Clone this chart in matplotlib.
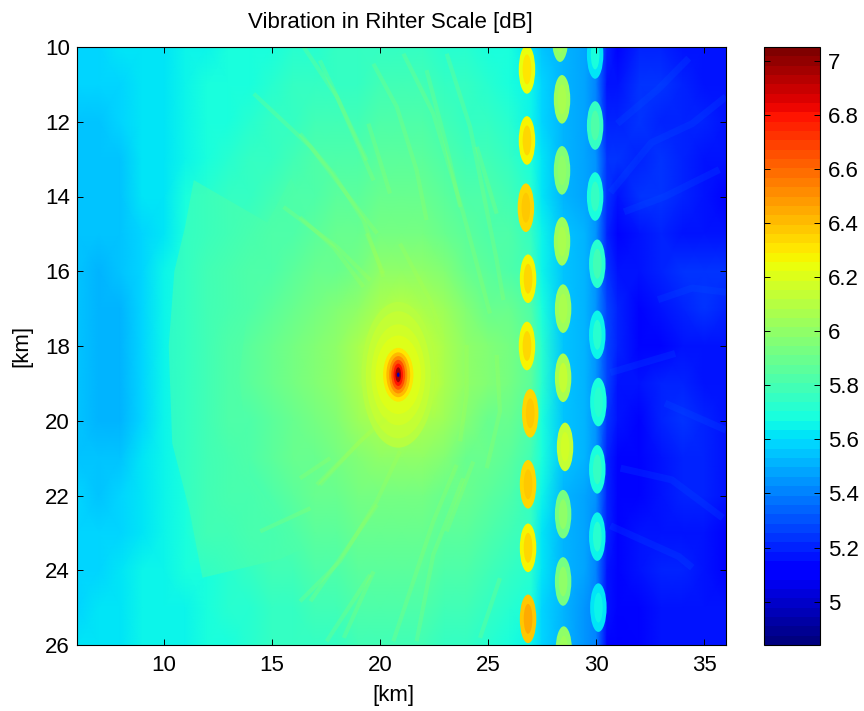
import numpy as np
import matplotlib
matplotlib.use("Agg")
import matplotlib.pyplot as plt
from matplotlib.colors import Normalize
from matplotlib.patches import Ellipse, Polygon

plt.rcParams["font.family"] = ["Liberation Sans", "DejaVu Sans"]

# background field [km, km, magnitude]
x_km = [6, 7, 8, 9, 10, 11, 12, 13, 14, 15, 16, 17, 18, 19, 20, 21, 22, 23, 24, 25, 26, 27, 27.5, 28.5, 29.5, 30, 30.5, 31, 32, 33, 34, 35, 36]
y_km = [10, 11, 12, 13, 14, 15, 16, 17, 18, 19, 20, 21, 22, 23, 24, 25, 26]
field = [
    [5.57, 5.58, 5.60, 5.61, 5.63, 5.65, 5.66, 5.67, 5.68, 5.70, 5.72, 5.73, 5.74, 5.74, 5.75, 5.76, 5.74, 5.73, 5.71, 5.69, 5.67, 5.62, 5.56, 5.50, 5.47, 5.42, 5.20, 5.15, 5.19, 5.21, 5.18, 5.17, 5.16],
    [5.57, 5.57, 5.59, 5.60, 5.63, 5.65, 5.67, 5.68, 5.70, 5.72, 5.74, 5.75, 5.76, 5.77, 5.78, 5.79, 5.78, 5.76, 5.74, 5.71, 5.69, 5.64, 5.57, 5.50, 5.47, 5.41, 5.18, 5.17, 5.22, 5.24, 5.20, 5.17, 5.16],
    [5.56, 5.56, 5.57, 5.60, 5.63, 5.66, 5.68, 5.70, 5.72, 5.74, 5.76, 5.78, 5.79, 5.80, 5.81, 5.82, 5.81, 5.79, 5.76, 5.74, 5.72, 5.66, 5.58, 5.51, 5.48, 5.42, 5.20, 5.20, 5.23, 5.20, 5.21, 5.19, 5.17],
    [5.55, 5.55, 5.56, 5.60, 5.63, 5.66, 5.70, 5.72, 5.74, 5.77, 5.79, 5.81, 5.82, 5.83, 5.85, 5.86, 5.85, 5.83, 5.80, 5.78, 5.75, 5.69, 5.60, 5.52, 5.48, 5.43, 5.22, 5.22, 5.21, 5.22, 5.19, 5.18, 5.16],
    [5.55, 5.55, 5.56, 5.60, 5.63, 5.67, 5.72, 5.74, 5.76, 5.79, 5.81, 5.83, 5.85, 5.86, 5.88, 5.90, 5.89, 5.86, 5.84, 5.81, 5.79, 5.72, 5.62, 5.53, 5.49, 5.44, 5.22, 5.18, 5.24, 5.24, 5.20, 5.17, 5.15],
    [5.54, 5.54, 5.55, 5.59, 5.63, 5.67, 5.73, 5.76, 5.79, 5.82, 5.84, 5.86, 5.88, 5.90, 5.92, 5.94, 5.93, 5.90, 5.87, 5.84, 5.81, 5.75, 5.64, 5.54, 5.50, 5.44, 5.20, 5.15, 5.18, 5.20, 5.18, 5.18, 5.17],
    [5.54, 5.53, 5.54, 5.59, 5.64, 5.67, 5.74, 5.78, 5.81, 5.84, 5.87, 5.89, 5.91, 5.94, 5.98, 6.01, 5.99, 5.95, 5.91, 5.87, 5.84, 5.78, 5.66, 5.55, 5.51, 5.45, 5.24, 5.18, 5.16, 5.20, 5.24, 5.25, 5.24],
    [5.55, 5.53, 5.53, 5.59, 5.65, 5.68, 5.75, 5.80, 5.84, 5.86, 5.90, 5.92, 5.95, 6.00, 6.07, 6.10, 6.08, 6.02, 5.96, 5.91, 5.88, 5.82, 5.69, 5.56, 5.52, 5.46, 5.26, 5.20, 5.15, 5.17, 5.20, 5.22, 5.21],
    [5.56, 5.53, 5.53, 5.59, 5.66, 5.68, 5.75, 5.82, 5.86, 5.88, 5.93, 5.96, 6.00, 6.06, 6.15, 6.20, 6.15, 6.08, 6.00, 5.95, 5.92, 5.85, 5.72, 5.56, 5.52, 5.46, 5.28, 5.20, 5.14, 5.14, 5.16, 5.17, 5.17],
    [5.56, 5.53, 5.53, 5.59, 5.66, 5.68, 5.75, 5.82, 5.86, 5.89, 5.93, 5.96, 6.00, 6.07, 6.16, 6.22, 6.16, 6.08, 6.01, 5.95, 5.92, 5.85, 5.72, 5.56, 5.52, 5.45, 5.26, 5.18, 5.16, 5.20, 5.20, 5.18, 5.17],
    [5.56, 5.53, 5.53, 5.59, 5.65, 5.68, 5.75, 5.81, 5.84, 5.87, 5.91, 5.93, 5.96, 6.02, 6.08, 6.10, 6.07, 6.02, 5.96, 5.91, 5.88, 5.82, 5.70, 5.55, 5.51, 5.45, 5.22, 5.16, 5.15, 5.19, 5.22, 5.19, 5.16],
    [5.56, 5.54, 5.54, 5.60, 5.65, 5.68, 5.75, 5.79, 5.82, 5.85, 5.88, 5.90, 5.92, 5.95, 5.98, 6.00, 5.98, 5.95, 5.91, 5.88, 5.85, 5.79, 5.67, 5.54, 5.50, 5.44, 5.20, 5.15, 5.14, 5.17, 5.20, 5.21, 5.18],
    [5.57, 5.56, 5.58, 5.62, 5.65, 5.68, 5.76, 5.78, 5.80, 5.83, 5.86, 5.88, 5.90, 5.92, 5.93, 5.93, 5.92, 5.90, 5.88, 5.85, 5.83, 5.76, 5.64, 5.53, 5.49, 5.43, 5.20, 5.14, 5.15, 5.17, 5.19, 5.19, 5.16],
    [5.58, 5.57, 5.59, 5.63, 5.65, 5.67, 5.74, 5.76, 5.78, 5.80, 5.83, 5.85, 5.87, 5.89, 5.90, 5.90, 5.89, 5.87, 5.85, 5.83, 5.80, 5.74, 5.62, 5.52, 5.48, 5.42, 5.19, 5.14, 5.16, 5.18, 5.17, 5.17, 5.15],
    [5.58, 5.59, 5.61, 5.64, 5.66, 5.67, 5.70, 5.73, 5.75, 5.78, 5.80, 5.82, 5.84, 5.86, 5.87, 5.87, 5.86, 5.84, 5.82, 5.80, 5.77, 5.71, 5.61, 5.52, 5.47, 5.41, 5.18, 5.15, 5.17, 5.19, 5.20, 5.18, 5.15],
    [5.59, 5.60, 5.62, 5.65, 5.66, 5.66, 5.68, 5.71, 5.73, 5.76, 5.77, 5.78, 5.80, 5.82, 5.82, 5.83, 5.82, 5.80, 5.78, 5.76, 5.73, 5.68, 5.59, 5.51, 5.46, 5.40, 5.16, 5.12, 5.14, 5.17, 5.18, 5.17, 5.16],
    [5.60, 5.61, 5.63, 5.65, 5.66, 5.66, 5.67, 5.69, 5.71, 5.74, 5.75, 5.74, 5.76, 5.78, 5.78, 5.79, 5.78, 5.77, 5.76, 5.73, 5.70, 5.66, 5.58, 5.50, 5.45, 5.40, 5.15, 5.10, 5.12, 5.16, 5.16, 5.17, 5.16],
]

# step in the field left of the source, outline
fan_x = [11.4, 14.8, 15.9, 16.6, 14.0, 13.5, 14.0, 16.5, 15.4, 11.8, 11.2, 10.4, 10.24, 10.5, 11.0]
fan_y = [13.56, 14.7, 13.5, 14.5, 16.5, 18.8, 21.5, 23.4, 23.7, 24.2, 22.4, 20.6, 18.0, 16.0, 14.8]

# streaks running out from the source
ray_x = [
    [16.31, 17.85, 19.24, 20.16], [16.31, 17.85, 19.24], [17.23, 18.31, 19.39], [19.7, 20.78, 21.7, 22.16],
    [19.47, 20.47], [20.93, 22.32, 22.94], [21.09, 22.47, 23.86, 25.09], [23.09, 24.17, 25.4, 25.71],
    [22.16, 23.09, 23.71], [24.48, 25.4], [19.39, 20.16], [14.17, 16.79, 19.87], [16.48, 18.02, 19.71],
    [15.55, 18.02, 19.56], [22.47, 22.63, 22.47], [24.01, 24.01, 23.71], [25.4, 25.55, 24.94],
    [16.31, 18.16, 19.85, 20.93], [17.23, 19.08, 20.32], [16.31, 17.7], [17.54, 19.55],
    [20.62, 21.39, 22.47, 23.55], [21.7, 22.47, 23.86], [24.63, 25.55], [23.09, 24.32],
    [17.09, 19.87], [16.79, 19.87], [18.33, 19.71], [14.47, 16.79],
]
ray_y = [
    [12.32, 13.39, 14.63, 16.15], [14.55, 15.35, 16.42], [10.36, 11.69, 13.03], [10.45, 11.6, 13.3, 14.63],
    [12.05, 13.92], [15.26, 16.77, 17.84], [10.18, 11.78, 14.46, 17.13], [10.18, 12.14, 15.7, 16.77],
    [10.62, 12.67, 14.28], [12.67, 14.46], [14.99, 16.06], [11.25, 12.67, 14.99], [10.0, 11.34, 13.57],
    [14.28, 15.35, 16.24], [17.97, 18.86, 19.93], [17.97, 19.31, 20.55], [18.24, 19.75, 21.27],
    [24.83, 23.76, 22.16, 20.82], [21.71, 20.55, 19.93], [21.54, 21.0], [25.9, 24.12],
    [25.9, 24.57, 22.69, 21.18], [25.9, 23.58, 21.54], [25.81, 24.21], [22.96, 21.09],
    [21.71, 20.11], [24.83, 22.25], [25.81, 24.03], [22.96, 22.34],
]
far_ray_x = [[30.98, 32.86, 34.28], [30.66, 32.55, 34.44, 36.0], [31.29, 33.18, 35.69], [32.86, 34.44, 36.0],
             [30.66, 33.65], [33.18, 36.0], [31.13, 33.49, 35.85], [30.66, 33.81, 34.44]]
far_ray_y = [[12.05, 11.13, 10.3], [13.89, 12.56, 12.05, 11.33], [14.41, 14.0, 13.28], [16.76, 16.45, 16.56],
             [18.71, 18.2], [19.53, 20.25], [21.27, 21.58, 22.6], [22.81, 23.63, 23.93]]

# the three columns of hot spots: centre x, centre y, magnitude
spot1_x = [26.8, 26.8, 26.75, 26.85, 26.8, 26.95, 26.85, 26.85, 26.85]
spot1_y = [10.6, 12.5, 14.3, 16.2, 18.0, 19.8, 21.7, 23.4, 25.3]
spot1_v = [6.27, 6.3, 6.35, 6.3, 6.3, 6.35, 6.35, 6.3, 6.4]
spot2_x = [28.33, 28.42, 28.42, 28.42, 28.47, 28.47, 28.56, 28.47, 28.47, 28.5]
spot2_y = [9.75, 11.4, 13.3, 15.2, 17.0, 18.85, 20.7, 22.5, 24.3, 26.15]
spot2_v = [6.0, 6.05, 5.98, 6.05, 6.05, 6.1, 6.15, 5.95, 5.95, 6.0]
spot3_x = [29.95, 29.95, 29.95, 30.05, 30.05, 30.1, 30.05, 30.05, 30.1]
spot3_y = [10.2, 12.1, 14.0, 15.8, 17.7, 19.5, 21.3, 23.1, 25.0]
spot3_v = [5.65, 5.78, 5.72, 5.75, 5.68, 5.7, 5.72, 5.68, 5.62]

# source at (20.85, 18.77), outer ring first
src_rx = [1.7, 1.5, 1.25, 1.05, 0.9, 0.7, 0.55, 0.42, 0.32, 0.22, 0.13, 0.06]
src_ry = [1.95, 1.7, 1.35, 1.05, 0.85, 0.72, 0.6, 0.5, 0.4, 0.3, 0.2, 0.06]
src_v = [6.09, 6.12, 6.16, 6.19, 6.22, 6.3, 6.4, 6.52, 6.65, 6.8, 6.95, 4.95]

cmap = plt.get_cmap("jet", 64)
norm = Normalize(4.84, 7.05)

fig = plt.figure(figsize=(8.64, 7.11), dpi=100)
ax = fig.add_axes([77 / 864, 1 - 645 / 711, 649 / 864, 598 / 711])
mesh = ax.pcolormesh(x_km, y_km, np.array(field), cmap=cmap, norm=norm, shading="gouraud")

ax.add_patch(Polygon(np.column_stack([fan_x, fan_y]), color=cmap(norm(5.83)), alpha=0.5, lw=0))

for xs, ys in zip(ray_x, ray_y):
    ax.plot(xs, ys, color=cmap(norm(6.1)), lw=3, alpha=0.17, solid_capstyle="butt")
for xs, ys in zip(far_ray_x, far_ray_y):
    ax.plot(xs, ys, color=cmap(norm(5.3)), lw=5, alpha=0.22, solid_capstyle="butt")

for rx, ry, v in zip(src_rx, src_ry, src_v):
    ax.add_patch(Ellipse((20.85, 18.77), 2 * rx, 2 * ry, color=cmap(norm(v)), lw=0))

for xs, ys, vs in [(spot1_x, spot1_y, spot1_v), (spot2_x, spot2_y, spot2_v), (spot3_x, spot3_y, spot3_v)]:
    for cx, cy, v in zip(xs, ys, vs):
        ax.add_patch(Ellipse((cx, cy), 0.76, 1.3, color=cmap(norm(v - 0.02)), lw=0))
        ax.add_patch(Ellipse((cx, cy), 0.4, 0.8, color=cmap(norm(v + 0.03)), lw=0))

ax.set_xlim(6, 36)
ax.set_ylim(26, 10)
ax.set_xticks([10, 15, 20, 25, 30, 35])
ax.set_yticks(list(range(10, 27, 2)))
ax.tick_params(direction="in", top=True, right=True, length=4.3, width=0.7, labelsize=16, pad=5)
ax.tick_params(axis="x", pad=7)
ax.set_title("Vibration in Rihter Scale [dB]", fontsize=16, pad=14, x=(390 - 77) / 649)
ax.set_xlabel("[km]", fontsize=16, labelpad=7, x=(393 - 77) / 649)
ax.set_ylabel("[km]", fontsize=16, labelpad=9)

cax = fig.add_axes([764 / 864, 1 - 645 / 711, 56 / 864, 598 / 711])
cb = fig.colorbar(mesh, cax=cax)
cb.set_ticks([5, 5.2, 5.4, 5.6, 5.8, 6, 6.2, 6.4, 6.6, 6.8, 7])
cb.set_ticklabels(["5", "5.2", "5.4", "5.6", "5.8", "6", "6.2", "6.4", "6.6", "6.8", "7"])
cax.tick_params(direction="in", left=True, right=True, length=4.3, width=0.7, labelsize=16, pad=6)

fig.savefig("out.png", dpi=100)
